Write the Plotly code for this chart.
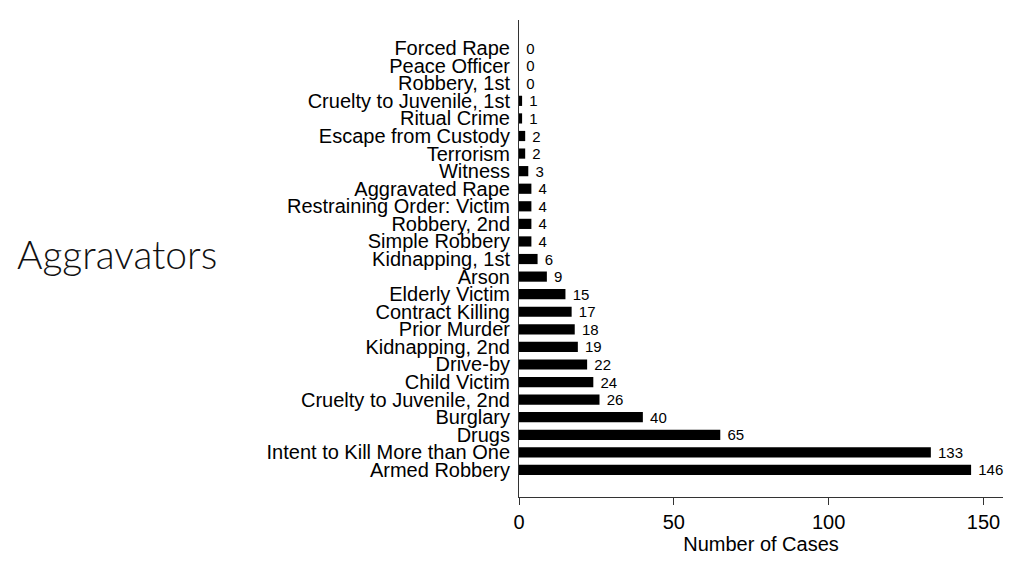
import plotly.graph_objects as go

categories = ["Armed Robbery", "Intent to Kill More than One", "Drugs", "Burglary",
              "Cruelty to Juvenile, 2nd", "Child Victim", "Drive-by", "Kidnapping, 2nd",
              "Prior Murder", "Contract Killing", "Elderly Victim", "Arson",
              "Kidnapping, 1st", "Simple Robbery", "Robbery, 2nd", "Restraining Order: Victim",
              "Aggravated Rape", "Witness", "Terrorism", "Escape from Custody",
              "Ritual Crime", "Cruelty to Juvenile, 1st", "Robbery, 1st", "Peace Officer",
              "Forced Rape"]
cases = [146, 133, 65, 40, 26, 24, 22, 19, 18, 17, 15, 9, 6, 4, 4, 4, 4, 3, 2, 2, 1, 1, 0, 0, 0]
x_ticks = [0, 50, 100, 150]

# page body has an 8px margin: compensate so the plot lands where the reference has it
L, R, T, B = 511, 29, 12, 87
W, H = 1024, 576
pw, ph = W - L - R, H - T - B

fig = go.Figure()
fig.add_trace(go.Bar(
    y=categories, x=cases, orientation="h",
    marker=dict(color="black", line=dict(width=0)),
    width=0.58,
    text=[" " + str(v) for v in cases], textposition="outside",
    constraintext="none",
    textfont=dict(family="Liberation Sans, Arial", size=15, color="black"),
    cliponaxis=False,
))

fig.update_layout(
    width=W, height=H,
    paper_bgcolor="white", plot_bgcolor="white",
    margin=dict(l=L, r=R, t=T, b=B, autoexpand=False),
    showlegend=False,
    font=dict(family="Liberation Sans, Arial", color="black"),
)
fig.update_xaxes(
    range=[0, 156.3], tickvals=x_ticks, ticks="outside", ticklen=7, tickwidth=1,
    tickcolor="#333", showline=True, linecolor="#333", linewidth=1,
    showgrid=False, zeroline=False, automargin=False,
    tickfont=dict(size=20, family="Liberation Sans, Arial"),
    title=dict(text="Number of Cases", font=dict(size=20, family="Liberation Sans, Arial"), standoff=0),
)
fig.update_yaxes(
    type="category", categoryorder="array", categoryarray=categories,
    tickmode="array", tickvals=categories, ticktext=categories,
    range=[-1.54, 25.6], showline=True, linecolor="#333", linewidth=1,
    ticks="", ticklabelstandoff=4, showgrid=False, zeroline=False, automargin=False,
    tickfont=dict(size=20, family="Liberation Sans, Arial"),
)
fig.add_annotation(
    text="Aggravators", xref="paper", yref="paper",
    x=(7 - L) / pw, y=(H - B - 246) / ph, xanchor="left", yanchor="middle",
    showarrow=False, font=dict(family="Lato, Open Sans", size=39, color="#111", weight=300),
)
fig.write_html("out.html")
